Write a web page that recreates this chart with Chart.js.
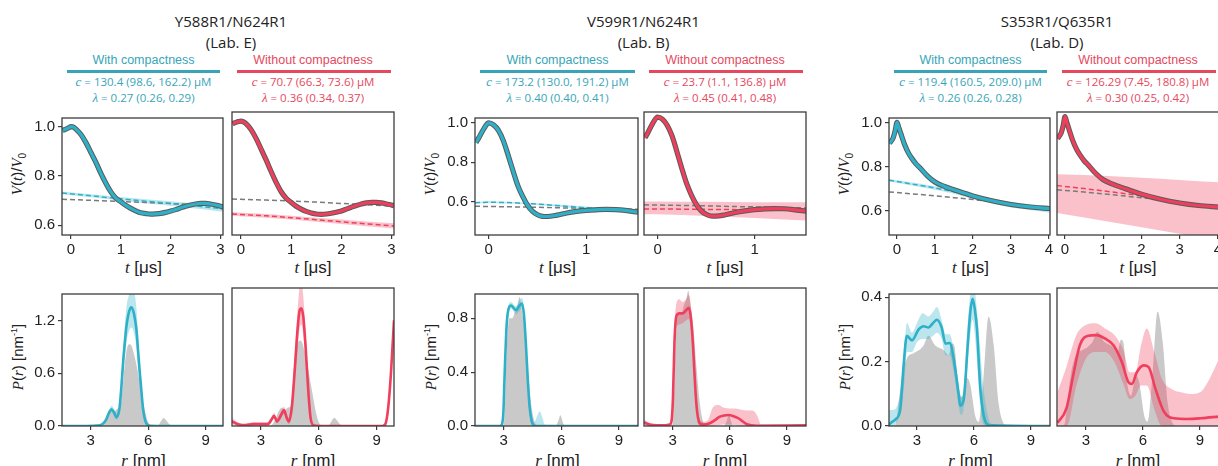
<!DOCTYPE html>
<html>
<head>
<meta charset="utf-8">
<script src="https://cdn.jsdelivr.net/npm/chart.js@4.4.1/dist/chart.umd.min.js"></script>
<style>
  body { margin: 0; background: #fff; width: 1218px; height: 466px; overflow: hidden; position: relative; }
  .t { position: absolute; transform: translate(-50%, -50%); white-space: nowrap; line-height: 1; }
  .title { font: 15px "Open Sans", sans-serif; color: #222; }
  .sub { font: 12.5px "Liberation Sans", Arial, sans-serif; }
  .par { font: 11.5px "Open Sans", sans-serif; }
  .par i { font-family: "Liberation Serif", serif; font-size: 13px; }
  .xl { font: 17px "Liberation Sans", Arial, sans-serif; color: #222; }
  .xl i, .yl i { font-family: "Liberation Serif", serif; }
  .yl { font: 15px "Liberation Sans", Arial, sans-serif; color: #222; transform: translate(-50%, -50%) rotate(-90deg); }
  .uline { position: absolute; height: 2.5px; }
  canvas { position: absolute; }
</style>
</head>
<body>
<script>
// ---- header text ----
const groupTitles = ['Y588R1/N624R1', 'V599R1/N624R1', 'S353R1/Q635R1'];
const labNames = ['(Lab. E)', '(Lab. B)', '(Lab. D)'];
const cWith = ['130.4 (98.6, 162.2)', '173.2 (130.0, 191.2)', '119.4 (160.5, 209.0)'];
const lamWith = ['0.27 (0.26, 0.29)', '0.40 (0.40, 0.41)', '0.26 (0.26, 0.28)'];
const cWithout = ['70.7 (66.3, 73.6)', '23.7 (1.1, 136.8)', '126.29 (7.45, 180.8)'];
const lamWithout = ['0.36 (0.34, 0.37)', '0.45 (0.41, 0.48)', '0.30 (0.25, 0.42)'];

// ---- tick labels ----
const vTicks = [0.6, 0.8, 1.0];
const tTicksE = [0, 1, 2, 3];
const tTicksB = [0, 1];
const tTicksD = [0, 1, 2, 3, 4];
const rTicks = [3, 6, 9];
const pTicksE = [0, 0.6, 1.2];
const pTicksB = [0, 0.4, 0.8];
const pTicksD = [0, 0.2, 0.4];

// ---- Y588R1/N624R1 (Lab. E) : V(t) ----
const tE = [-0.17,-0.1,-0.05,0,0.05,0.1,0.2,0.3,0.4,0.5,0.6,0.7,0.8,0.9,1.0,1.1,1.2,1.3,1.4,1.5,1.6,1.7,1.8,1.9,2.0,2.1,2.2,2.3,2.4,2.5,2.6,2.7,2.8,2.9,3.0,3.05];
const vE_with = [0.985,0.99,0.995,1.0,0.998,0.99,0.968,0.935,0.895,0.855,0.81,0.77,0.735,0.71,0.695,0.68,0.668,0.658,0.65,0.647,0.645,0.646,0.648,0.652,0.657,0.663,0.67,0.677,0.682,0.686,0.688,0.688,0.686,0.682,0.677,0.674];
const vE_without = [0.99,0.995,0.998,1.0,0.997,0.99,0.967,0.933,0.892,0.85,0.805,0.763,0.727,0.702,0.686,0.671,0.66,0.651,0.645,0.641,0.64,0.641,0.644,0.648,0.653,0.66,0.667,0.674,0.68,0.684,0.686,0.686,0.684,0.68,0.676,0.673];
const tE_bg = [-0.18,0.5,1.0,1.5,2.0,2.5,3.05];
const bgE_with = [0.731,0.717,0.707,0.697,0.688,0.678,0.666];
const bgE_withHi = [0.737,0.723,0.714,0.705,0.697,0.688,0.678];
const bgE_withLo = [0.725,0.711,0.700,0.689,0.679,0.668,0.654];
const bgE_without = [0.641,0.634,0.627,0.619,0.611,0.603,0.595];
const bgE_withoutHi = [0.648,0.641,0.634,0.627,0.62,0.612,0.605];
const bgE_withoutLo = [0.634,0.627,0.62,0.611,0.602,0.594,0.585];
const bgE_refL = [0.705,0.7,0.696,0.692,0.688,0.683,0.676];
const bgE_refR = [0.699,0.695,0.691,0.687,0.682,0.677,0.672];

// ---- V599R1/N624R1 (Lab. B) : V(t) ----
const tB = [-0.13,-0.1,-0.05,0,0.05,0.1,0.15,0.2,0.25,0.3,0.35,0.4,0.45,0.5,0.55,0.6,0.7,0.8,0.9,1.0,1.1,1.2,1.3,1.4,1.53];
const vB_with = [0.9,0.925,0.97,1.0,0.99,0.962,0.91,0.835,0.755,0.68,0.625,0.58,0.55,0.533,0.525,0.524,0.531,0.542,0.55,0.555,0.558,0.56,0.559,0.555,0.546];
const vB_without = [0.9,0.925,0.97,1.0,0.99,0.96,0.908,0.832,0.752,0.678,0.622,0.577,0.547,0.53,0.522,0.521,0.528,0.539,0.547,0.553,0.556,0.558,0.557,0.553,0.545];
const tB_bg = [-0.14,0,0.25,0.5,0.75,1.0,1.25,1.53];
const bgB_with = [0.594,0.597,0.594,0.587,0.578,0.568,0.558,0.545];
const bgB_withHi = [0.598,0.601,0.598,0.592,0.584,0.575,0.566,0.555];
const bgB_withLo = [0.59,0.593,0.59,0.582,0.572,0.561,0.55,0.535];
const bgB_without = [0.556,0.556,0.555,0.554,0.553,0.552,0.551,0.549];
const bgB_withoutHi = [0.592,0.592,0.591,0.591,0.59,0.589,0.589,0.588];
const bgB_withoutLo = [0.53,0.53,0.527,0.522,0.517,0.512,0.506,0.5];
const bgB_ref = [0.576,0.575,0.573,0.571,0.568,0.566,0.563,0.561];

// ---- S353R1/Q635R1 (Lab. D) : V(t) ----
const tD = [-0.2,-0.1,-0.05,0,0.05,0.1,0.2,0.3,0.4,0.5,0.6,0.8,1.0,1.25,1.5,2.0,2.5,3.0,3.5,4.03];
const vD_with = [0.905,0.93,0.96,1.0,0.975,0.95,0.9,0.862,0.835,0.812,0.795,0.758,0.73,0.71,0.695,0.667,0.645,0.628,0.617,0.61];
const vD_without = [0.905,0.93,0.96,1.0,0.973,0.948,0.898,0.86,0.833,0.81,0.793,0.756,0.728,0.709,0.694,0.666,0.644,0.628,0.617,0.61];
const tD_bg = [-0.21,0.5,1,1.5,2,2.5,3,3.5,4.03];
const bgD_with = [0.738,0.718,0.703,0.686,0.664,0.644,0.627,0.616,0.606];
const bgD_withHi = [0.744,0.725,0.711,0.695,0.674,0.655,0.639,0.629,0.621];
const bgD_withLo = [0.732,0.711,0.695,0.677,0.654,0.633,0.615,0.603,0.591];
const bgD_without = [0.703,0.69,0.68,0.67,0.659,0.645,0.629,0.617,0.607];
const bgD_withoutHi = [0.752,0.748,0.745,0.741,0.737,0.732,0.727,0.722,0.717];
const bgD_withoutLo = [0.585,0.565,0.551,0.537,0.523,0.509,0.495,0.481,0.466];
const bgD_ref = [0.685,0.675,0.667,0.659,0.651,0.641,0.628,0.617,0.607];

// ---- Lab. E : P(r) ----
const rE_with = [1.5,2.5,3.3,3.6,3.8,3.95,4.08,4.2,4.34,4.5,4.6,4.69,4.78,4.86,5.0,5.12,5.25,5.38,5.47,5.55,5.65,5.73,5.82,5.9,6.1,7.0,9.9];
const pE_with = [0,0,0.005,0.02,0.07,0.15,0.19,0.16,0.1,0.2,0.45,0.73,0.95,1.13,1.3,1.35,1.28,1.1,0.85,0.63,0.38,0.19,0.08,0.03,0.003,0,0];
const pE_withHi = [0,0.005,0.01,0.04,0.1,0.18,0.23,0.2,0.14,0.26,0.55,0.9,1.15,1.35,1.5,1.6,1.55,1.35,1.05,0.75,0.45,0.24,0.11,0.05,0.01,0,0];
const pE_withLo = [0,0,0,0.01,0.05,0.12,0.16,0.12,0.07,0.15,0.35,0.58,0.78,0.95,1.08,1.12,1.06,0.9,0.68,0.5,0.3,0.14,0.05,0.01,0,0,0];
const rE_without = [1.5,1.8,2.2,2.6,3.0,3.35,3.55,3.68,3.83,4.0,4.2,4.35,4.45,4.6,4.75,4.9,5.0,5.1,5.2,5.32,5.45,5.58,5.75,6.0,9.3,9.45,9.6,9.75,9.9];
const pE_without = [0.05,0.02,0.01,0.02,0.02,0.02,0.07,0.11,0.05,0.1,0.17,0.08,0.05,0.2,0.6,1.05,1.25,1.28,1.18,0.85,0.4,0.08,0.005,0,0,0.02,0.2,0.6,1.15];
const pE_withoutHi = [0.09,0.04,0.02,0.04,0.04,0.04,0.1,0.14,0.08,0.14,0.21,0.12,0.09,0.28,0.75,1.25,1.5,1.55,1.4,1.0,0.5,0.12,0.01,0,0,0.03,0.23,0.65,1.2];
const pE_withoutLo = [0.02,0,0,0,0,0,0.04,0.08,0.03,0.07,0.13,0.05,0.02,0.13,0.45,0.85,1.05,1.1,0.98,0.7,0.3,0.04,0,0,0,0.01,0.17,0.55,1.1];
const rE_ref = [1.5,3.4,3.6,3.8,3.95,4.1,4.25,4.4,4.55,4.65,4.8,4.95,5.05,5.15,5.25,5.4,5.55,5.7,5.85,6.0,6.2,6.5,6.65,6.8,6.95,7.1,7.3,9.9];
const pE_ref = [0,0,0.02,0.1,0.17,0.2,0.17,0.2,0.22,0.4,0.75,0.92,0.93,0.9,0.82,0.68,0.5,0.32,0.15,0.04,0.005,0.005,0.05,0.09,0.06,0.02,0,0];

// ---- Lab. B : P(r) ----
const rB_with = [1.5,2.8,2.9,2.98,3.05,3.15,3.25,3.39,3.52,3.65,3.8,3.95,4.05,4.15,4.25,4.35,4.45,4.55,4.7,10];
const pB_with = [0,0,0.01,0.1,0.4,0.75,0.87,0.895,0.875,0.86,0.89,0.91,0.83,0.62,0.35,0.14,0.04,0.005,0,0];
const rB_withBand = [1.5,2.8,2.9,2.98,3.05,3.15,3.25,3.39,3.52,3.65,3.8,3.95,4.05,4.15,4.25,4.35,4.45,4.6,4.75,4.88,5.0,5.15,10];
const pB_withHi = [0,0.005,0.02,0.14,0.47,0.8,0.9,0.92,0.9,0.89,0.93,0.95,0.88,0.68,0.42,0.2,0.08,0.03,0.08,0.11,0.07,0.01,0.005];
const pB_withLo = [0,0,0,0.06,0.33,0.7,0.84,0.87,0.85,0.83,0.85,0.87,0.78,0.56,0.28,0.09,0.01,0,0,0,0,0,0];
const rB_without = [1.5,1.8,2.2,2.6,2.85,2.95,3.02,3.1,3.2,3.35,3.53,3.7,3.85,3.95,4.06,4.15,4.24,4.33,4.42,4.6,4.95,5.2,5.48,5.7,5.92,6.2,6.45,6.7,6.9,7.4,10];
const pB_without = [0.025,0.01,0.005,0.005,0.01,0.04,0.2,0.6,0.78,0.8,0.8,0.82,0.84,0.78,0.6,0.37,0.17,0.06,0.02,0.01,0.02,0.04,0.066,0.075,0.078,0.07,0.055,0.03,0.012,0.002,0.005];
const rB_withoutBand = [1.5,1.8,2.2,2.6,2.85,2.95,3.02,3.1,3.2,3.35,3.53,3.7,3.85,3.95,4.06,4.15,4.24,4.33,4.42,4.6,4.85,5.1,5.4,5.7,6.0,6.3,6.6,6.9,7.2,7.45,7.65,10];
const pB_withoutHi = [0.05,0.02,0.01,0.01,0.02,0.07,0.28,0.7,0.87,0.9,0.88,0.9,0.93,0.87,0.68,0.44,0.22,0.1,0.05,0.03,0.04,0.13,0.15,0.13,0.125,0.125,0.115,0.11,0.11,0.07,0.01,0.01];
const pB_withoutLo = [0.005,0,0,0,0,0.01,0.12,0.5,0.7,0.72,0.73,0.75,0.76,0.7,0.5,0.3,0.12,0.02,0,0,0,0,0.005,0.01,0.01,0.005,0,0,0,0,0,0];
const rB_ref = [1.5,2.95,3.05,3.15,3.3,3.45,3.6,3.72,3.82,3.95,4.09,4.26,4.44,4.61,4.8,5.7,5.85,5.95,6.1,6.2,10];
const pB_ref = [0,0,0.1,0.55,0.8,0.8,0.86,0.9,0.96,0.85,0.7,0.41,0.15,0.03,0,0,0.04,0.08,0.02,0,0];

// ---- Lab. D : P(r) ----
const rD_with = [1.5,1.6,1.86,2.12,2.3,2.47,2.74,3.09,3.35,3.61,3.85,4.05,4.3,4.5,4.72,4.93,5.1,5.19,5.28,5.46,5.67,5.8,5.93,6.05,6.16,6.33,6.51,6.77,10];
const pD_with = [0,0.008,0.02,0.05,0.19,0.28,0.266,0.3,0.31,0.306,0.32,0.33,0.306,0.256,0.258,0.21,0.14,0.1,0.063,0.082,0.25,0.35,0.395,0.36,0.3,0.12,0.033,0.003,0];
const rD_withBand = [1.5,1.7,2.0,2.2,2.35,2.47,2.74,3.0,3.3,3.6,3.85,4.05,4.3,4.5,4.72,4.93,5.1,5.2,5.3,5.45,5.65,5.8,5.93,6.05,6.2,6.35,6.5,6.7,6.9,10];
const pD_withHi = [0.05,0.05,0.07,0.14,0.25,0.32,0.29,0.32,0.35,0.34,0.355,0.37,0.33,0.285,0.285,0.24,0.17,0.13,0.09,0.11,0.3,0.41,0.45,0.42,0.33,0.22,0.12,0.04,0.005,0];
const pD_withLo = [0,0,0.02,0.07,0.14,0.23,0.23,0.26,0.27,0.27,0.28,0.29,0.27,0.22,0.22,0.17,0.1,0.06,0.035,0.05,0.18,0.28,0.33,0.28,0.17,0.05,0.005,0,0,0];
const rD_without = [1.5,1.55,1.98,2.33,2.68,3.12,3.56,4.0,4.45,4.89,5.24,5.42,5.68,6.04,6.3,6.65,7.1,7.63,8.33,9.04,10];
const pD_without = [0.01,0.013,0.053,0.15,0.24,0.268,0.27,0.26,0.24,0.19,0.13,0.125,0.16,0.18,0.175,0.112,0.043,0.023,0.021,0.023,0.028];
const rD_withoutBand = [1.5,2.0,2.5,3.0,3.5,4.0,4.5,5.0,5.3,5.6,5.9,6.2,6.6,7.0,7.5,8.0,8.5,9.0,9.5,10];
const pD_withoutHi = [0.1,0.18,0.27,0.3,0.305,0.29,0.27,0.22,0.16,0.16,0.24,0.29,0.22,0.14,0.11,0.1,0.095,0.1,0.14,0.2];
const pD_withoutLo = [0,0,0.12,0.2,0.22,0.22,0.19,0.12,0.08,0.09,0.12,0.12,0.05,0,0,0,0,0,0,0];
const rD_ref = [1.5,1.86,2.05,2.2,2.47,2.82,3.1,3.35,3.6,3.96,4.4,4.67,4.84,4.96,5.19,5.37,5.63,5.8,6.07,6.25,6.5,6.77,7.04,7.3,7.56,7.74,10];
const pD_ref = [0,0.003,0.08,0.15,0.21,0.226,0.235,0.25,0.28,0.25,0.236,0.22,0.256,0.25,0.12,0.09,0.15,0.13,0.03,0.013,0.15,0.34,0.25,0.07,0.008,0,0];

// ---- colours ----
const TEAL = '#2eb1c8', RED = '#f03f5c';
const TEAL_BAND = 'rgba(46,177,200,0.32)', RED_BAND = 'rgba(240,63,92,0.32)';
const TEAL_TXT = '#37a5b7', RED_TXT = '#e6485e';

// panel frame columns [leftL, rightL, leftR, rightR] and rows
const cols = [[62, 223, 232, 394], [475, 638, 644, 806], [889, 1050, 1057, 1219]];
const topRow = [112, 235], botRow = [288, 426];

const xy = (xs, ys) => xs.map((x, i) => ({ x: x, y: ys[i] }));

const frame = {
  id: 'frame',
  afterDatasetsDraw(chart) {
    const a = chart.chartArea, c = chart.ctx;
    c.save();
    c.strokeStyle = '#3c3c3c';
    c.lineWidth = 1.3;
    c.strokeRect(a.left, a.top, a.right - a.left, a.bottom - a.top);
    c.restore();
  }
};

function addText(cls, html, x, y, color) {
  const d = document.createElement('div');
  d.className = 't ' + cls;
  d.innerHTML = html;
  d.style.left = x + 'px';
  d.style.top = y + 'px';
  if (color) d.style.color = color;
  document.body.appendChild(d);
}

function panel(box, xr, yr, xt, yt, showY, datasets) {
  const L = 48, R = 14, T = 6, B = 34;
  const w = box[2] - box[0], h = box[3] - box[1];
  const cv = document.createElement('canvas');
  cv.width = w + L + R;
  cv.height = h + T + B;
  cv.style.left = (box[0] - L) + 'px';
  cv.style.top = (box[1] - T) + 'px';
  document.body.appendChild(cv);
  const tickFont = { family: '"Liberation Sans", Arial, sans-serif', size: 15 };
  new Chart(cv, {
    type: 'line',
    data: { datasets: datasets },
    options: {
      responsive: false,
      animation: false,
      devicePixelRatio: 1,
      layout: { padding: { top: T, right: R, left: 0, bottom: 0 }, autoPadding: false },
      plugins: { legend: { display: false }, tooltip: { enabled: false } },
      elements: { point: { radius: 0 } },
      scales: {
        x: {
          type: 'linear', min: xr[0], max: xr[1],
          afterFit: s => { s.height = B; },
          afterBuildTicks: s => { s.ticks = xt.map(v => ({ value: v })); },
          ticks: { font: tickFont, color: '#222', padding: 2, maxRotation: 0, autoSkip: false, callback: v => String(v) },
          grid: { drawOnChartArea: false, drawTicks: true, tickLength: 4, color: '#3c3c3c', lineWidth: 1.2 },
          border: { display: false }
        },
        y: {
          type: 'linear', min: yr[0], max: yr[1],
          afterFit: s => { s.width = L; },
          afterBuildTicks: s => { s.ticks = yt.map(v => ({ value: v })); },
          ticks: { display: showY, font: tickFont, color: '#222', padding: 3, callback: v => v.toFixed(1) },
          grid: { display: showY, drawOnChartArea: false, drawTicks: true, tickLength: 4, color: '#3c3c3c', lineWidth: 1.2 },
          border: { display: false }
        }
      }
    },
    plugins: [frame]
  });
}

function signalSets(t, v, tbg, bg, bgHi, bgLo, ref, col, band) {
  return [
    { data: xy(t, v), borderColor: col, borderWidth: 3.2, cubicInterpolationMode: 'monotone', order: 0 },
    { data: xy(t, v), borderColor: '#5a5a5a', borderWidth: 5.2, cubicInterpolationMode: 'monotone', order: 1 },
    { data: xy(tbg, bg), borderColor: col, borderWidth: 1.5, borderDash: [5, 3], order: 2 },
    { data: xy(tbg, ref), borderColor: '#7a7a7a', borderWidth: 1.5, borderDash: [5, 3], order: 2 },
    { data: xy(tbg, bgHi), borderWidth: 0, backgroundColor: band, fill: '+1', order: 3 },
    { data: xy(tbg, bgLo), borderWidth: 0, fill: false, order: 3 }
  ];
}

function distSets(r, p, rb, hi, lo, rRef, pRef, col, band) {
  return [
    { data: xy(r, p), borderColor: col, borderWidth: 2.6, cubicInterpolationMode: 'monotone', order: 0 },
    { data: xy(rb, hi), borderWidth: 0, backgroundColor: band, fill: '+1', cubicInterpolationMode: 'monotone', order: 1 },
    { data: xy(rb, lo), borderWidth: 0, fill: false, cubicInterpolationMode: 'monotone', order: 1 },
    { data: xy(rRef, pRef), borderWidth: 0, backgroundColor: '#c9c9c9', fill: 'origin', cubicInterpolationMode: 'monotone', order: 2 }
  ];
}

// ---- headers ----
cols.forEach((c, g) => {
  const mid = (c[0] + c[3]) / 2 + 3;
  addText('title', groupTitles[g], mid, 21);
  addText('title', labNames[g], mid, 42);
  const lc = (c[0] + c[1]) / 2 + 1, rc = (c[2] + c[3]) / 2;
  addText('sub', 'With compactness', lc, 60, TEAL_TXT);
  addText('sub', 'Without compactness', rc, 60, RED_TXT);
  [[c[0], c[1], TEAL_TXT], [c[2], c[3], RED_TXT]].forEach(u => {
    const d = document.createElement('div');
    d.className = 'uline';
    d.style.left = (u[0] + 5) + 'px';
    d.style.width = (u[1] - u[0] - 8) + 'px';
    d.style.top = '70px';
    d.style.background = u[2];
    document.body.appendChild(d);
  });
  addText('par', '<i>c</i> = ' + cWith[g] + ' μM', lc, 82, TEAL_TXT);
  addText('par', '<i>λ</i> = ' + lamWith[g], lc, 98, TEAL_TXT);
  addText('par', '<i>c</i> = ' + cWithout[g] + ' μM', rc, 82, RED_TXT);
  addText('par', '<i>λ</i> = ' + lamWithout[g], rc, 98, RED_TXT);
  // axis titles
  addText('xl', '<i>t</i> [μs]', lc, 268);
  addText('xl', '<i>t</i> [μs]', rc, 268);
  addText('xl', '<i>r</i> [nm]', lc, 461);
  addText('xl', '<i>r</i> [nm]', rc, 461);
  addText('yl', '<i>V</i>(<i>t</i>)/<i>V</i><sub style="font-size:10px">0</sub>', c[0] - 44, (topRow[0] + topRow[1]) / 2);
  addText('yl', '<i>P</i>(<i>r</i>) [nm<sup style="font-size:9px">-1</sup>]', c[0] - 44, (botRow[0] + botRow[1]) / 2);
});

// ---- V(t) panels ----
const c0 = cols[0], c1 = cols[1], c2 = cols[2];
panel([c0[0], topRow[0], c0[1], topRow[1]], [-0.18, 3.05], [0.56, 1.035], tTicksE, vTicks, true,
  signalSets(tE, vE_with, tE_bg, bgE_with, bgE_withHi, bgE_withLo, bgE_refL, TEAL, TEAL_BAND));
panel([c0[2], topRow[0], c0[3], topRow[1]], [-0.18, 3.05], [0.56, 1.035], tTicksE, vTicks, false,
  signalSets(tE, vE_without, tE_bg, bgE_without, bgE_withoutHi, bgE_withoutLo, bgE_refR, RED, RED_BAND));
panel([c1[0], topRow[0], c1[1], topRow[1]], [-0.14, 1.53], [0.43, 1.025], tTicksB, vTicks, true,
  signalSets(tB, vB_with, tB_bg, bgB_with, bgB_withHi, bgB_withLo, bgB_ref, TEAL, TEAL_BAND));
panel([c1[2], topRow[0], c1[3], topRow[1]], [-0.14, 1.53], [0.43, 1.025], tTicksB, vTicks, false,
  signalSets(tB, vB_without, tB_bg, bgB_without, bgB_withoutHi, bgB_withoutLo, bgB_ref, RED, RED_BAND));
panel([c2[0], topRow[0], c2[1], topRow[1]], [-0.21, 4.03], [0.49, 1.02], tTicksD, vTicks, true,
  signalSets(tD, vD_with, tD_bg, bgD_with, bgD_withHi, bgD_withLo, bgD_ref, TEAL, TEAL_BAND));
panel([c2[2], topRow[0], c2[3], topRow[1]], [-0.21, 4.03], [0.49, 1.02], tTicksD, vTicks, false,
  signalSets(tD, vD_without, tD_bg, bgD_without, bgD_withoutHi, bgD_withoutLo, bgD_ref, RED, RED_BAND));

// ---- P(r) panels ----
panel([c0[0], botRow[0], c0[1], botRow[1]], [1.5, 9.9], [0, 1.5], rTicks, pTicksE, true,
  distSets(rE_with, pE_with, rE_with, pE_withHi, pE_withLo, rE_ref, pE_ref, TEAL, TEAL_BAND));
panel([c0[2], botRow[0], c0[3], botRow[1]], [1.5, 9.9], [0, 1.5], rTicks, pTicksE, false,
  distSets(rE_without, pE_without, rE_without, pE_withoutHi, pE_withoutLo, rE_ref, pE_ref, RED, RED_BAND));
panel([c1[0], botRow[0], c1[1], botRow[1]], [1.5, 10], [0, 0.98], rTicks, pTicksB, true,
  distSets(rB_with, pB_with, rB_withBand, pB_withHi, pB_withLo, rB_ref, pB_ref, TEAL, TEAL_BAND));
panel([c1[2], botRow[0], c1[3], botRow[1]], [1.5, 10], [0, 0.98], rTicks, pTicksB, false,
  distSets(rB_without, pB_without, rB_withoutBand, pB_withoutHi, pB_withoutLo, rB_ref, pB_ref, RED, RED_BAND));
panel([c2[0], botRow[0], c2[1], botRow[1]], [1.53, 10], [0, 0.41], rTicks, pTicksD, true,
  distSets(rD_with, pD_with, rD_withBand, pD_withHi, pD_withLo, rD_ref, pD_ref, TEAL, TEAL_BAND));
panel([c2[2], botRow[0], c2[3], botRow[1]], [1.48, 10], [0, 0.41], rTicks, pTicksD, false,
  distSets(rD_without, pD_without, rD_withoutBand, pD_withoutHi, pD_withoutLo, rD_ref, pD_ref, RED, RED_BAND));
</script>
</body>
</html>
